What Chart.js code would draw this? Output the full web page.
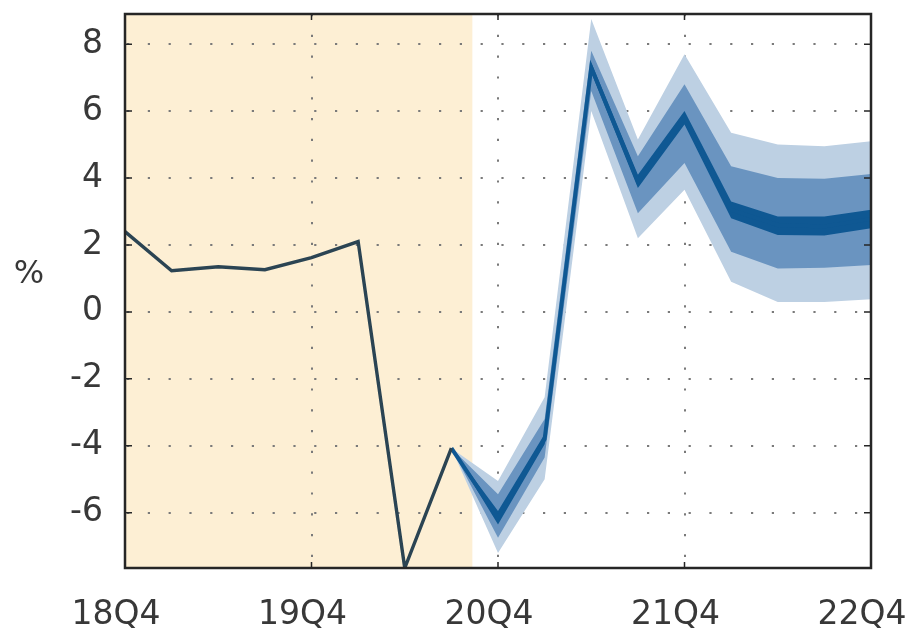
<!DOCTYPE html>
<html>
<head>
<meta charset="utf-8">
<script src="https://cdn.jsdelivr.net/npm/chart.js@4/dist/chart.umd.min.js"></script>
<style>
  html, body { margin: 0; padding: 0; background: #ffffff; }
  #wrap { width: 923px; height: 635px; }
</style>
</head>
<body>
<div id="wrap"><canvas id="c" width="923" height="635"></canvas></div>
<script>
// Quarterly growth, % — outturn and projection fan
const quarters = ['18Q4','19Q1','19Q2','19Q3','19Q4','20Q1','20Q2','20Q3','20Q4',
                  '21Q1','21Q2','21Q3','21Q4','22Q1','22Q2','22Q3','22Q4'];
const yTicks = [-6, -4, -2, 0, 2, 4, 6, 8];

const outturn    = [2.4, 1.23, 1.35, 1.26, 1.62, 2.1, -7.65, -4.07,
                    null, null, null, null, null, null, null, null, null];
const projection = [null, null, null, null, null, null, null, -4.07,
                    -6.15, -3.8, 7.3, 3.9, 5.8, 3.05, 2.6, 2.55, 2.78];

const outerLow  = [null, null, null, null, null, null, null, -4.07,
                   -7.2, -5.0, 6.0, 2.2, 3.65, 0.9, 0.3, 0.3, 0.38];
const outerHigh = [null, null, null, null, null, null, null, -4.07,
                   -5.05, -2.55, 8.75, 5.15, 7.7, 5.35, 5.0, 4.95, 5.1];
const midLow    = [null, null, null, null, null, null, null, -4.07,
                   -6.75, -4.35, 6.6, 2.95, 4.45, 1.8, 1.3, 1.32, 1.4];
const midHigh   = [null, null, null, null, null, null, null, -4.07,
                   -5.45, -3.2, 7.8, 4.65, 6.8, 4.35, 4.0, 3.98, 4.12];
const innerLow  = [null, null, null, null, null, null, null, -4.07,
                   -6.35, -3.95, 7.15, 3.7, 5.6, 2.8, 2.3, 2.28, 2.5];
const innerHigh = [null, null, null, null, null, null, null, -4.07,
                   -5.95, -3.65, 7.45, 4.1, 6.0, 3.3, 2.85, 2.85, 3.05];

// Shaded outturn period runs from the first quarter to midway through 20Q3/20Q4
const shadeEndIndex = 7.45;

const FONT = 'DejaVu Sans';
const TEXT = '#383838';
const CENTRAL = '#0f5893';

const frame = {
  id: 'frame',
  beforeDraw(chart) {
    const { ctx, chartArea: a, scales: { x } } = chart;
    ctx.save();
    ctx.fillStyle = '#fdefd4';
    const xe = x.getPixelForValue(shadeEndIndex);
    ctx.fillRect(a.left, a.top, xe - a.left, a.bottom - a.top);
    ctx.restore();
  },
  afterDraw(chart) {
    const { ctx, chartArea: a, scales: { x, y } } = chart;
    ctx.save();
    ctx.strokeStyle = '#262626';
    ctx.lineWidth = 2.5;
    ctx.strokeRect(a.left, a.top, a.right - a.left, a.bottom - a.top);
    ctx.lineWidth = 1.5;
    ctx.beginPath();
    yTicks.forEach(v => {
      const py = y.getPixelForValue(v);
      ctx.moveTo(a.left, py); ctx.lineTo(a.left + 7, py);
      ctx.moveTo(a.right, py); ctx.lineTo(a.right - 7, py);
    });
    quarters.forEach((q, i) => {
      if (i % 4 !== 0) return;
      const px = x.getPixelForValue(i);
      ctx.moveTo(px, a.top); ctx.lineTo(px, a.top + 6);
      ctx.moveTo(px, a.bottom); ctx.lineTo(px, a.bottom - 6);
    });
    ctx.stroke();
    ctx.fillStyle = TEXT;
    ctx.font = '32px "' + FONT + '"';
    ctx.textAlign = 'center';
    ctx.textBaseline = 'middle';
    ctx.fillText('%', 29, a.top + (a.bottom - a.top) * 0.47);
    ctx.restore();
  }
};

const band = (data, fill, color) => ({
  data, fill, backgroundColor: color, borderWidth: 0, pointRadius: 0, tension: 0, spanGaps: false
});

new Chart(document.getElementById('c'), {
  type: 'line',
  data: {
    labels: quarters,
    datasets: [
      { label: 'Outturn', data: outturn, borderColor: '#2b4453', borderWidth: 3.4,
        pointRadius: 0, fill: false, tension: 0, order: 0 },
      { label: 'Projection', data: projection, borderColor: CENTRAL, borderWidth: 4,
        pointRadius: 0, fill: false, tension: 0, order: 1 },
      Object.assign(band(innerLow, false, 'transparent'), { order: 2 }),
      Object.assign(band(innerHigh, '-1', CENTRAL), { order: 3 }),
      Object.assign(band(midLow, false, 'transparent'), { order: 4 }),
      Object.assign(band(midHigh, '-1', '#6a94c0'), { order: 5 }),
      Object.assign(band(outerLow, false, 'transparent'), { order: 6 }),
      Object.assign(band(outerHigh, '-1', '#bdd0e3'), { order: 7 })
    ]
  },
  options: {
    responsive: false,
    animation: false,
    events: [],
    layout: { padding: { top: 14, right: 52, left: 0, bottom: 0 } },
    plugins: { legend: { display: false }, tooltip: { enabled: false } },
    scales: {
      x: {
        type: 'category',
        offset: false,
        grid: {
          drawTicks: false,
          color: c => (c.index % 4 === 0 && c.index > 0 && c.index < 16) ? '#7a7a7a' : 'transparent',
          lineWidth: 2
        },
        border: { display: false, dash: [2.2, 18.6], dashOffset: 0 },
        ticks: {
          autoSkip: false, maxRotation: 0, minRotation: 0, padding: 28, labelOffset: -9,
          color: TEXT, font: { family: FONT, size: 33 },
          callback: (v, i) => (i % 4 === 0 ? quarters[i] : '')
        },
        afterFit(s) { s.height = 67; s.paddingLeft = 0; s.paddingRight = 0; }
      },
      y: {
        min: -7.65, max: 8.9,
        grid: { drawTicks: false, color: '#7a7a7a', lineWidth: 2 },
        border: { display: false, dash: [2.2, 18.6], dashOffset: -2 },
        afterBuildTicks(s) { s.ticks = yTicks.map(v => ({ value: v })); },
        ticks: { padding: 22, color: TEXT, font: { family: FONT, size: 33 } },
        afterFit(s) { s.width = 125; s.paddingTop = 0; s.paddingBottom = 0; }
      }
    }
  },
  plugins: [frame]
});
</script>
</body>
</html>
